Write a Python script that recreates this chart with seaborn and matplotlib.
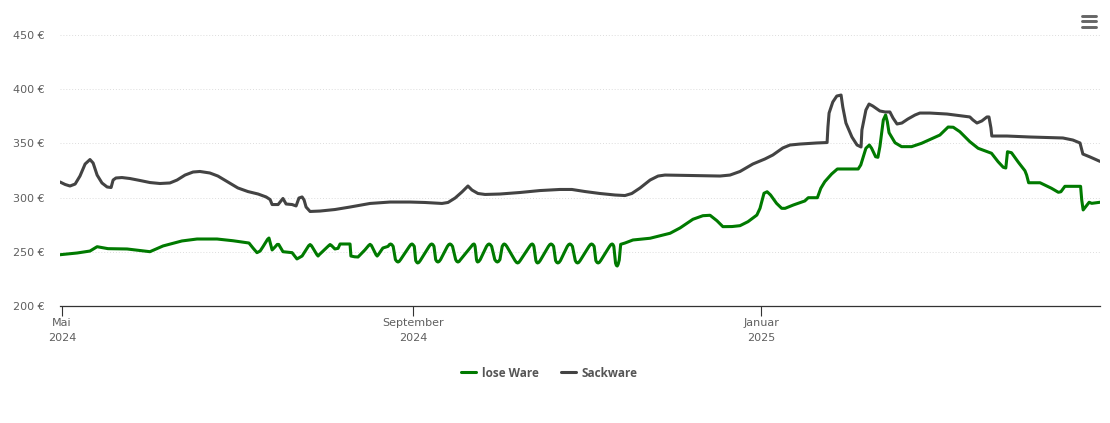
import pandas as pd
import seaborn as sns
import matplotlib.pyplot as plt
from matplotlib.lines import Line2D

# Tage seit dem 1. Mai 2024 und Preise in Euro
tage_sack = [-0.7, 1.1, 2.8, 4.6, 6.3, 8.1, 9.8, 10.9, 12.3, 14.0, 15.8, 17.2, 17.9, 18.9, 21.0, 23.8,
             27.3, 30.8, 34.3, 37.8, 40.3, 43.1, 45.9, 48.3, 51.8, 54.6, 58.1, 61.6, 65.1, 68.7, 71.5, 72.9,
             73.6, 75.7, 76.7, 77.4, 78.5, 80.6, 82.0, 83.0, 84.1, 84.8, 85.5, 86.9, 90.4, 95.6, 100.9, 107.9,
             114.9, 121.9, 127.1, 133.1, 135.2, 137.7, 140.1, 142.2, 143.6, 145.7, 148.2, 153.4, 160.4, 167.4,
             174.4, 178.6, 183.2, 188.4, 193.7, 197.2, 199.6, 202.5, 206.0, 208.8, 211.2, 220.0, 230.5, 234.0,
             237.5, 242.0, 246.2, 249.0, 252.5, 255.0, 258.5, 264.4, 268.0, 268.3, 268.7, 270.0, 271.4, 272.9,
             273.5, 274.6, 276.7, 278.5, 279.9, 280.2, 281.6, 282.7, 284.0, 286.5, 288.3, 290.0, 291.1, 292.5,
             294.2, 296.3, 298.8, 300.5, 304.0, 310.0, 318.0, 319.1, 320.5, 322.2, 324.0, 324.7, 325.4, 325.7,
             331.0, 339.1, 350.6, 354.1, 356.6, 357.6, 360.1, 363.6]
preis_sack = [314.4, 312.1, 310.7, 312.5, 319.9, 331.0, 335.1, 331.9, 320.8, 313.5, 309.8, 309.3, 316.2, 318.1, 318.5, 317.6,
              315.8, 313.9, 313.0, 313.5, 316.2, 320.8, 323.6, 324.1, 322.7, 319.9, 314.4, 308.9, 305.6, 303.3, 300.6, 298.2,
              293.6, 293.6, 296.9, 299.2, 294.1, 293.6, 292.3, 299.6, 300.6, 297.8, 291.3, 287.2, 287.6, 289.0, 291.3, 294.6,
              295.9, 295.9, 295.5, 294.6, 295.5, 299.6, 305.2, 310.7, 307.0, 303.8, 302.9, 303.3, 304.7, 306.5,
              307.5, 307.5, 305.6, 303.8, 302.4, 301.9, 303.8, 308.9, 316.2, 319.9, 320.8, 320.4, 319.9, 320.8,
              324.1, 331.0, 335.6, 339.3, 345.8, 348.5, 349.4, 350.4, 350.8, 365.1, 378.0, 388.2, 393.7, 394.6,
              383.6, 368.8, 355.9, 348.5, 346.7, 362.4, 380.8, 386.3, 384.5, 379.9, 379.0, 379.0, 373.4, 367.9,
              368.8, 372.5, 376.2, 378.0, 378.0, 377.1, 374.4, 371.6, 368.8, 370.7, 374.4, 374.4, 364.2, 356.8,
              356.8, 355.9, 355.0, 353.1, 350.4, 340.2, 337.5, 333.4]

tage_lose = [-0.7, 5.3, 9.8, 12.3, 16.1, 22.8, 30.8, 35.4, 42.0, 47.3, 54.3, 59.9, 65.5, 66.9, 68.3, 69.4, 70.4, 72.0, 72.5, 73.6,
             74.6, 75.4, 75.9, 77.4, 80.6, 82.3, 84.1, 86.4, 86.9, 87.4, 89.3, 89.7, 90.1, 93.4, 93.9, 94.4, 95.6, 96.7, 97.4,
             100.9, 101.2, 102.5, 103.7, 106.1, 107.4, 107.9, 108.4, 110.0, 110.4, 110.8, 112.4,
             114.2, 114.7, 115.1, 115.5, 116.0, 116.8, 117.3, 117.7, 118.1, 118.6,
             121.7, 122.2, 122.6, 122.9, 123.4, 123.9, 124.3, 124.6, 125.0, 125.5,
             128.6, 129.1, 129.5, 129.9, 130.3, 130.9, 131.3, 131.7, 132.1, 132.6,
             135.0, 135.5, 135.9, 136.3, 136.8, 137.9, 138.3, 138.7, 139.1, 139.6,
             143.4, 143.9, 144.3, 144.5, 144.7, 145.2, 145.4, 145.6, 146.0, 146.5,
             148.7, 149.2, 149.6, 150.0, 150.5, 151.6, 152.1, 152.5, 152.9, 153.4,
             154.2, 154.6, 154.9, 155.3, 155.8, 158.7, 159.2, 159.6, 160.0, 160.5,
             163.8, 164.3, 164.7, 165.0, 165.3, 166.0, 166.3, 166.6, 167.0, 167.5,
             170.4, 170.9, 171.3, 171.7, 172.2, 172.9, 173.3, 173.7, 174.1, 174.6,
             177.0, 177.5, 177.9, 178.3, 178.8, 179.8, 180.2, 180.6, 181.0, 181.5,
             184.6, 185.1, 185.5, 185.9, 186.4, 187.0, 187.4, 187.8, 188.2, 188.7,
             191.8, 192.3, 192.7, 193.0, 193.3, 193.9, 194.2, 194.5, 194.8, 195.2, 195.7,
             197.2, 200.0, 206.0, 213.0, 216.5, 221.0, 224.5, 227.0, 229.4, 231.5, 234.7, 237.5, 240.3, 243.4, 244.5,
             245.9, 247.0, 248.2, 250.3, 252.1, 253.3, 256.2, 260.2, 261.4, 264.6, 265.8, 267.2, 269.6, 271.6, 278.9,
             279.8, 281.6, 282.8, 283.6, 285.0, 285.8, 286.5, 287.7, 288.5, 289.1, 289.7, 291.8, 294.1, 297.6, 301.1,
             307.5, 308.7, 310.4, 312.2, 314.5, 318.0, 320.9, 325.6, 327.9, 329.7, 330.6, 331.2, 332.6, 335.0, 337.3,
             337.9, 338.6, 342.6, 346.6, 349.0, 349.9, 351.3, 356.8, 357.2, 357.7, 359.8, 360.7, 363.6]
preis_lose = [247.3, 248.9, 250.7, 254.7, 252.9, 252.6, 250.1, 255.4, 260.0, 261.8, 261.8, 260.2, 258.1, 253.5, 249.2, 250.7, 254.7, 261.5, 262.7, 251.7,
              254.4, 256.8, 256.8, 250.1, 249.2, 243.4, 246.1, 255.6, 256.7, 255.6, 247.3, 246.1, 247.3, 255.6, 256.7, 255.8, 252.6, 253.2, 257.2,
              257.2, 246.1, 245.4, 245.2, 251.7, 255.8, 256.9, 255.8, 247.3, 246.1, 247.3, 253.5,
              255.0, 256.7, 257.2, 256.7, 255.0, 242.8, 241.1, 240.6, 241.1, 242.8,
              255.0, 256.7, 257.2, 256.7, 255.0, 241.9, 240.2, 239.7, 240.2, 241.9,
              255.0, 256.7, 257.2, 256.7, 255.0, 242.8, 241.1, 240.6, 241.1, 242.8,
              255.0, 256.7, 257.2, 256.7, 255.0, 242.8, 241.1, 240.6, 241.1, 242.8,
              255.0, 256.7, 257.2, 256.7, 255.0, 242.8, 241.1, 240.6, 241.1, 242.8,
              255.0, 256.7, 257.2, 256.7, 255.0, 242.8, 241.1, 240.6, 241.1, 242.8,
              255.0, 256.7, 257.2, 256.7, 255.0, 241.9, 240.2, 239.7, 240.2, 241.9,
              255.0, 256.7, 257.2, 256.7, 255.0, 241.9, 240.2, 239.7, 240.2, 241.9,
              255.0, 256.7, 257.2, 256.7, 255.0, 241.9, 240.2, 239.7, 240.2, 241.9,
              255.0, 256.7, 257.2, 256.7, 255.0, 241.9, 240.2, 239.7, 240.2, 241.9,
              255.0, 256.7, 257.2, 256.7, 255.0, 241.9, 240.2, 239.7, 240.2, 241.9,
              255.0, 256.7, 257.2, 256.7, 255.0, 239.6, 237.4, 236.9, 238.4, 242.4, 256.9,
              258.1, 260.9, 262.5, 267.1, 272.0, 280.0, 283.3, 283.7, 278.7, 273.2, 273.3, 274.1, 277.8, 283.9, 290.1,
              304.0, 305.4, 302.4, 294.7, 290.1, 290.1, 293.2, 296.9, 299.9, 299.9, 308.6, 314.7, 321.8, 326.4, 326.4,
              330.1, 345.5, 348.5, 345.5, 337.7, 337.2, 347.0, 371.6, 376.2, 370.0, 359.9, 350.6, 347.0, 347.0, 350.1,
              357.7, 360.8, 365.1, 364.9, 360.8, 351.6, 345.5, 340.9, 333.1, 328.0, 327.3, 342.3, 341.4, 332.6, 324.8,
              320.8, 313.7, 313.7, 308.6, 304.9, 305.4, 310.4, 310.4, 297.8, 288.6, 295.7, 294.7, 295.7]

start = pd.Timestamp("2024-05-01")
tick_daten = [pd.Timestamp("2024-05-01"), pd.Timestamp("2024-09-01"), pd.Timestamp("2025-01-01")]
tick_namen = ["Mai\n2024", "September\n2024", "Januar\n2025"]
y_ticks = [200, 250, 300, 350, 400, 450]

lose = pd.DataFrame({"tag": tage_lose, "preis": preis_lose, "ware": "lose Ware"})
sack = pd.DataFrame({"tag": tage_sack, "preis": preis_sack, "ware": "Sackware"})
df = pd.concat([lose, sack], ignore_index=True)
df["datum"] = start + pd.to_timedelta(df["tag"], unit="D")

sns.set_theme(style="white")
plt.rcParams['font.family'] = ['DejaVu Sans']

fig = plt.figure(figsize=(11.10, 4.23), dpi=100)
ax = fig.add_axes([60 / 1110, 1 - 306 / 423, 1040 / 1110, 271 / 423])

farben = {"lose Ware": "#007a00", "Sackware": "#434343"}
sns.lineplot(data=df, x="datum", y="preis", hue="ware", palette=farben, estimator=None, sort=False,
             linewidth=2.2, ax=ax, solid_joinstyle="round", solid_capstyle="round", legend=False, zorder=3)

ax.set_xlim(start + pd.Timedelta(days=-0.7), start + pd.Timedelta(days=363.6))
ax.set_ylim(200, 450)
ax.set_xlabel("")
ax.set_ylabel("")

ax.set_yticks(y_ticks)
ax.set_yticklabels([f"{v} €" for v in y_ticks], color="#5f5f5f", fontsize=8)
ax.tick_params(axis="y", length=0, pad=11)
ax.set_xticks(tick_daten)
ax.set_xticklabels(tick_namen, color="#5f5f5f", fontsize=8, linespacing=1.65)
ax.tick_params(axis="x", length=7.5, width=0.8, color="#333333", pad=1, bottom=True)

ax.grid(axis="y", color="#dddddd", linestyle=(0, (1, 2)), linewidth=0.7)
ax.grid(axis="x", visible=False)
for seite in ["top", "left", "right"]:
    ax.spines[seite].set_visible(False)
ax.spines["bottom"].set_color("#333333")
ax.spines["bottom"].set_linewidth(0.9)

griffe = [Line2D([], [], color=farben[w], linewidth=2.2) for w in farben]
fig.legend(griffe, list(farben), loc="center", bbox_to_anchor=(549.5 / 1110, 1 - 373 / 423), ncol=2,
           frameon=False, handlelength=1.2, handletextpad=0.5, columnspacing=1.95, borderpad=0,
           labelcolor="#555555", prop={"family": "Open Sans", "size": 8.5, "weight": "bold"})

# Menue-Symbol oben rechts
for y_px in [16, 21.5, 27]:
    fig.add_artist(Line2D([1082 / 1110, 1096 / 1110], [1 - y_px / 423] * 2, color="#666666",
                          linewidth=2.1, solid_capstyle="round"))

plt.savefig("out.png", dpi=100)
